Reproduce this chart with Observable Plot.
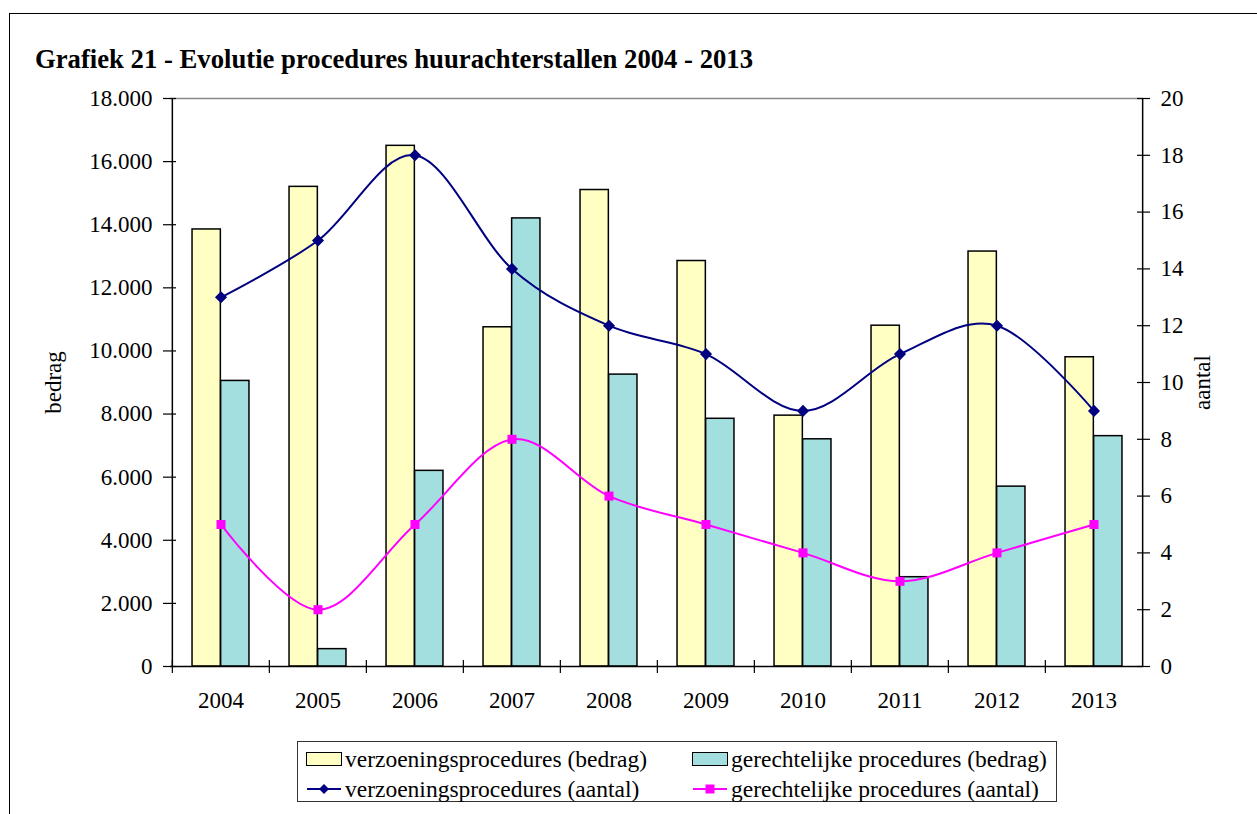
<!DOCTYPE html>
<html>
<head>
<meta charset="utf-8">
<script src="https://cdn.jsdelivr.net/npm/d3@7"></script>
<script src="https://cdn.jsdelivr.net/npm/@observablehq/plot@0.6"></script>
<style>
  body { margin: 0; background: #fff; font-family: "Liberation Serif", "Times New Roman", serif; color: #000; }
  #page { position: relative; width: 1257px; height: 814px; overflow: hidden; }
  #border { position: absolute; left: 9px; top: 13px; width: 1260px; height: 820px; border-left: 1.5px solid #000; border-top: 1.5px solid #000; }
  #title { position: absolute; left: 35px; top: 46px; font-weight: bold; font-size: 26.7px; line-height: 26px; white-space: nowrap; }
  #chart { position: absolute; left: 0; top: 80px; }
  #legend { position: absolute; left: 297px; top: 741px; width: 760px; height: 61px; border: 1px solid #333; box-sizing: border-box; font-size: 23.5px; }
  .item { position: absolute; display: flex; align-items: center; white-space: nowrap; height: 24px; line-height: 24px; }
  .swatch { width: 34px; height: 12px; border: 1.5px solid #000; margin-right: 3px; }
  .item svg { margin-right: 3px; }
</style>
</head>
<body>
<div id="page">
  <div id="border"></div>
  <div id="title">Grafiek 21 - Evolutie procedures huurachterstallen 2004 - 2013</div>
  <div id="chart"></div>
  <div id="legend"></div>
</div>
<script>
// Jaren en reeksen
const years = [2004, 2005, 2006, 2007, 2008, 2009, 2010, 2011, 2012, 2013];
const verzoeningBedrag = [13850, 15200, 16500, 10750, 15100, 12850, 7950, 10800, 13150, 9800];
const gerechtelijkBedrag = [9050, 550, 6200, 14200, 9250, 7850, 7200, 2830, 5700, 7300];
const verzoeningAantal = [13, 15, 18, 14, 12, 11, 9, 11, 12, 9];
const gerechtelijkAantal = [5, 2, 5, 8, 6, 5, 4, 3, 4, 5];

// Asmarkeringen
const bedragTicks = [0, 2000, 4000, 6000, 8000, 10000, 12000, 14000, 16000, 18000];
const aantalTicks = [0, 2, 4, 6, 8, 10, 12, 14, 16, 18, 20];

const seriesNames = {
  verzBedrag: "verzoeningsprocedures (bedrag)",
  gerBedrag: "gerechtelijke procedures (bedrag)",
  verzAantal: "verzoeningsprocedures (aantal)",
  gerAantal: "gerechtelijke procedures (aantal)"
};
const colors = { yellow: "#FFFFC4", teal: "#A4DFE0", navy: "#000080", magenta: "#FF00FF" };

// Afmetingen
const W = 1257, H = 650, mL = 170, mR = 114, mT = 18, mB = 64;
const plotW = W - mL - mR, plotH = H - mT - mB;
const band = plotW / years.length;
const barW = band / 1.7 / 2;          // twee staven per jaar, tussenruimte 70%

// De rechteras (aantal) wordt op de bedragschaal gelegd
const yMax = bedragTicks[bedragTicks.length - 1];
const aMax = aantalTicks[aantalTicks.length - 1];
const k = yMax / aMax;

const nl = d3.formatLocale({ decimal: ",", thousands: ".", grouping: [3], currency: ["€ ", ""] });
const fmt = nl.format(",");

const idx = d3.range(years.length);

const chart = Plot.plot({
  width: W, height: H,
  marginLeft: mL, marginRight: mR, marginTop: mT, marginBottom: mB,
  style: { fontFamily: "Liberation Serif, Times New Roman, serif", fontSize: "23px", color: "#000", background: "transparent" },
  x: { type: "band", domain: years, padding: 0 },
  y: { domain: [0, yMax] },
  marks: [
    // bovenrand van het tekenvlak
    Plot.ruleY([yMax], { stroke: "#888", strokeWidth: 1.5 }),
    // staven
    Plot.barY(idx, {
      x: i => years[i], y: i => verzoeningBedrag[i],
      fill: colors.yellow, stroke: "#000", strokeWidth: 1.5,
      insetLeft: band / 2 - barW, insetRight: band / 2
    }),
    Plot.barY(idx, {
      x: i => years[i], y: i => gerechtelijkBedrag[i],
      fill: colors.teal, stroke: "#000", strokeWidth: 1.5,
      insetLeft: band / 2, insetRight: band / 2 - barW
    }),
    // assen
    Plot.ruleY([0], { stroke: "#000", strokeWidth: 1.5 }),
    Plot.ruleX([years[0]], { dx: -band / 2, stroke: "#000", strokeWidth: 1.5 }),
    Plot.ruleX([years[years.length - 1]], { dx: band / 2, stroke: "#000", strokeWidth: 1.5 }),
    Plot.tickX(years, { x: d => d, dx: -band / 2, insetTop: plotH - 6, insetBottom: -7, stroke: "#000", strokeWidth: 1.2 }),
    Plot.tickY(bedragTicks, { y: d => d, insetLeft: -7, insetRight: plotW - 6, stroke: "#000", strokeWidth: 1.2 }),
    Plot.tickY(aantalTicks.map(v => v * k), { y: d => d, insetLeft: plotW - 6, insetRight: -7, stroke: "#000", strokeWidth: 1.2 }),
    Plot.axisY({ anchor: "left", ticks: bedragTicks, tickFormat: fmt, tickSize: 0, tickPadding: 18,
      label: "bedrag", labelAnchor: "center", labelArrow: "none", labelOffset: 126 }),
    Plot.axisY({ anchor: "right", ticks: aantalTicks.map(v => v * k), tickFormat: v => String(Math.round(v / k)),
      tickSize: 0, tickPadding: 17, label: "aantal", labelAnchor: "center", labelArrow: "none", labelOffset: 66 }),
    Plot.axisX({ tickSize: 0, tickPadding: 25, tickFormat: d => String(d), label: null }),
    // lijnen
    Plot.line(idx, {
      x: i => years[i], y: i => verzoeningAantal[i] * k,
      stroke: colors.navy, strokeWidth: 2, curve: "cardinal", tension: 0
    }),
    Plot.dot(idx, {
      x: i => years[i], y: i => verzoeningAantal[i] * k,
      symbol: "diamond2", r: 4.5, fill: colors.navy, stroke: colors.navy
    }),
    Plot.line(idx, {
      x: i => years[i], y: i => gerechtelijkAantal[i] * k,
      stroke: colors.magenta, strokeWidth: 2, curve: "cardinal", tension: 0
    }),
    Plot.dot(idx, {
      x: i => years[i], y: i => gerechtelijkAantal[i] * k,
      symbol: "square", r: 5.1, fill: colors.magenta, stroke: "none"
    })
  ]
});
document.getElementById("chart").appendChild(chart);

// Legende
const legend = document.getElementById("legend");
function lineSwatch(color, shape) {
  const m = shape === "diamond"
    ? `<path d="M18,2 L23,7 L18,12 L13,7 Z" fill="${color}"/>`
    : `<rect x="13.5" y="2.5" width="9" height="9" fill="${color}"/>`;
  return `<svg width="36" height="14"><line x1="1" y1="7" x2="35" y2="7" stroke="${color}" stroke-width="2"/>${m}</svg>`;
}
const items = [
  { left: 8, top: 5, html: `<div class="swatch" style="background:${colors.yellow}"></div>`, label: seriesNames.verzBedrag },
  { left: 394, top: 5, html: `<div class="swatch" style="background:${colors.teal}"></div>`, label: seriesNames.gerBedrag },
  { left: 8, top: 35, html: lineSwatch(colors.navy, "diamond"), label: seriesNames.verzAantal },
  { left: 394, top: 35, html: lineSwatch(colors.magenta, "square"), label: seriesNames.gerAantal }
];
for (const it of items) {
  const d = document.createElement("div");
  d.className = "item";
  d.style.left = it.left + "px";
  d.style.top = it.top + "px";
  d.innerHTML = it.html + `<span>${it.label}</span>`;
  legend.appendChild(d);
}
</script>
</body>
</html>
